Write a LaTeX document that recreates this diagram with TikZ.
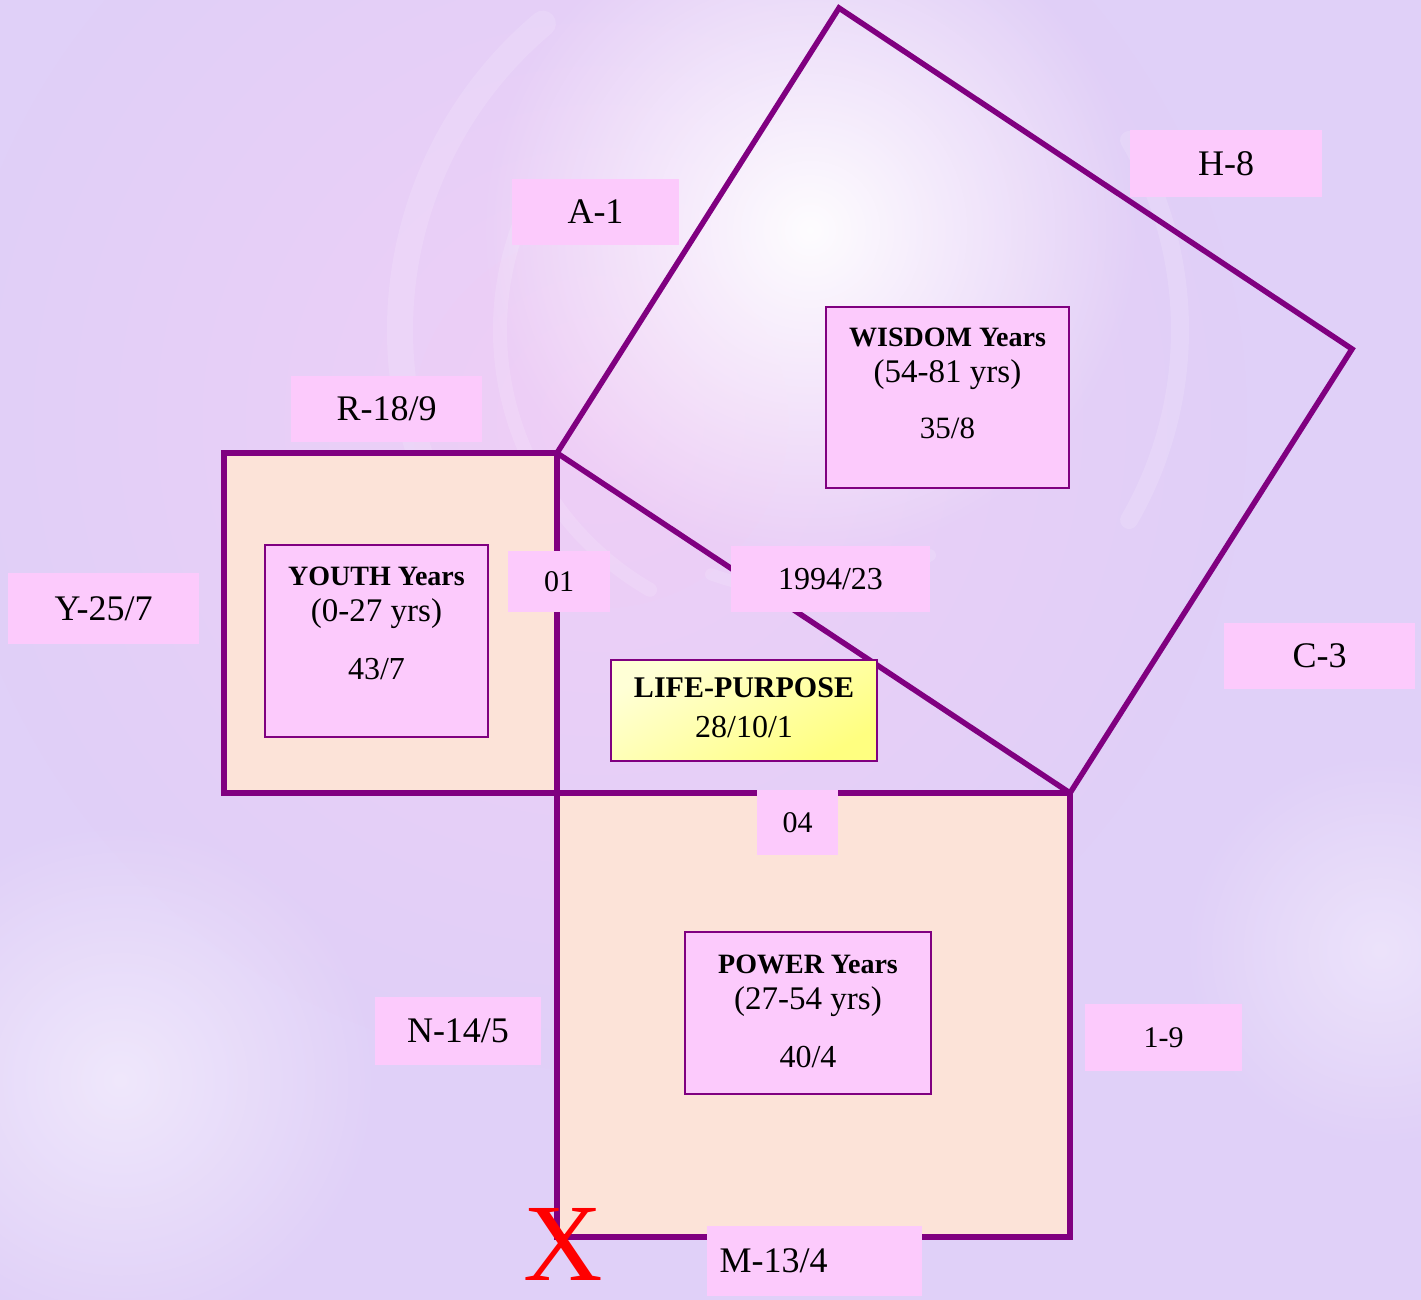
\documentclass[tikz,border=0pt]{standalone}
\usepackage{fontspec}
\setmainfont{Liberation Serif}
\usetikzlibrary{fadings}
\tikzfading[name=glow, inner color=transparent!0, outer color=transparent!100]
\definecolor{bgc}{RGB}{224,208,248}
\definecolor{bgpink}{RGB}{246,206,246}
\definecolor{pur}{RGB}{128,0,128}
\definecolor{peach}{RGB}{252,227,216}
\definecolor{lpink}{RGB}{252,202,252}
\definecolor{ylight}{RGB}{255,255,214}
\definecolor{ydark}{RGB}{255,255,128}
\begin{document}
\begin{tikzpicture}[x=1pt,y=-1pt,
  sqline/.style={draw=pur,line width=5.5pt,line join=miter},
  lab/.style={fill=lpink,inner sep=0pt,font=\fontsize{36}{40}\selectfont},
  numlab/.style={lab,font=\fontsize{30}{34}\selectfont},
  inbox/.style={fill=lpink,draw=pur,line width=2pt,inner sep=0pt,align=center,font=\fontsize{33}{36}\selectfont},
  swirl/.style={white,line cap=round,opacity=0.14}
]
\useasboundingbox (0,0) rectangle (1421,1300);
% background
\fill[bgc] (0,0) rectangle (1421,1300);
\fill[bgpink,opacity=0.7,path fading=glow] (600,420) circle[radius=650];
\fill[white,opacity=0.95,path fading=glow] (810,230) circle[radius=330];
\fill[white,opacity=0.5,path fading=glow] (120,1080) circle[radius=260];
\fill[white,opacity=0.4,path fading=glow] (1380,950) circle[radius=200];
\draw[swirl,line width=26pt] (800,330) ++(160:400) arc[start angle=160,end angle=230,radius=400];
\draw[swirl,line width=14pt] (800,330) ++(120:300) arc[start angle=120,end angle=200,radius=300];
\draw[swirl,line width=18pt] (800,330) ++(330:380) arc[start angle=330,end angle=390,radius=380];
\draw[swirl,line width=12pt] (800,330) ++(60:260) arc[start angle=60,end angle=110,radius=260];
% corner coordinates
\coordinate (ytl) at (224,453);
\coordinate (ytr) at (557,453);
\coordinate (ybr) at (557,793);
\coordinate (ybl) at (224,793);
\coordinate (pbr) at (1070,1237);
\coordinate (pbl) at (557,1237);
\coordinate (ptr) at (1070,793);
\coordinate (wtop) at (839,8);
\coordinate (wright) at (1352,349);
% squares
\path[sqline,fill=peach] (ytl) -- (ytr) -- (ybr) -- (ybl) -- cycle;
\path[sqline,fill=peach] (ybr) -- (ptr) -- (pbr) -- (pbl) -- cycle;
\draw[sqline] (ytr) -- (wtop) -- (wright) -- (ptr) -- cycle;
% labels
\node[lab,minimum width=167,minimum height=66] (a1) at (595.5,212) {A-1};
\node[lab,minimum width=192,minimum height=67] (h8) at (1226,163.5) {H-8};
\node[lab,minimum width=191,minimum height=66] (r18) at (386.5,409) {R-18/9};
\node[lab,minimum width=191,minimum height=71] (y25) at (103.5,608.5) {Y-25/7};
\node[numlab,minimum width=102,minimum height=61] (n01) at (559,581.5) {01};
\node[numlab,font=\fontsize{32}{36}\selectfont,minimum width=199,minimum height=66] (n1994) at (830.5,579) {1994/23};
\node[lab,minimum width=191,minimum height=66] (c3) at (1319.5,656) {C-3};
\node[numlab,minimum width=81,minimum height=65] (n04) at (797.5,822.5) {04};
\node[lab,minimum width=166,minimum height=68] (n14) at (458,1031) {N-14/5};
\node[numlab,minimum width=157,minimum height=67] (i9) at (1163.5,1037.5) {1-9};
\node[lab,minimum width=215,minimum height=70,text width=190,align=left] (m13) at (814.5,1261) {M-13/4};
% inner boxes
\node[inbox,minimum width=243,minimum height=181] (wisdom) at (947.5,397.5)
 {\raisebox{12pt}[\height][\depth]{\begin{tabular}{@{}c@{}}{\bfseries\fontsize{28}{36}\selectfont WISDOM Years}\\(54-81 yrs)\\[20pt]{\fontsize{31}{36}\selectfont 35/8}\end{tabular}}};
\node[inbox,minimum width=223,minimum height=192] (youth) at (376.5,641)
 {\raisebox{16pt}[\height][\depth]{\begin{tabular}{@{}c@{}}{\bfseries\fontsize{28}{36}\selectfont YOUTH Years}\\(0-27 yrs)\\[22pt]{\fontsize{32}{36}\selectfont 43/7}\end{tabular}}};
\node[inbox,minimum width=246,minimum height=162] (power) at (808,1013)
 {\raisebox{0pt}[\height][\depth]{\begin{tabular}{@{}c@{}}{\bfseries\fontsize{28}{36}\selectfont POWER Years}\\(27-54 yrs)\\[22pt]{\fontsize{32}{36}\selectfont 40/4}\end{tabular}}};
\node[inbox,top color=ylight,bottom color=ydark,shading angle=30,minimum width=266,minimum height=101] (life) at (744,710.5)
 {\begin{tabular}{@{}c@{}}{\bfseries\fontsize{30}{36}\selectfont LIFE-PURPOSE}\\[4pt]{\fontsize{32}{36}\selectfont 28/10/1}\end{tabular}};
% red X
\node[text=red,inner sep=0pt,font=\fontsize{110}{110}\selectfont] (xmark) at (563,1244) {X};
\end{tikzpicture}
\end{document}
